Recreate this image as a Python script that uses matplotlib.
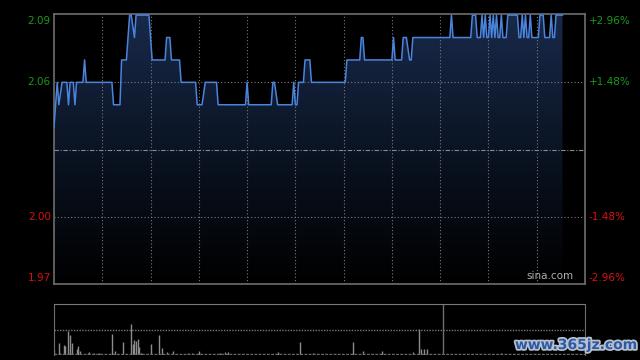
import matplotlib
matplotlib.use("Agg")
import matplotlib.pyplot as plt
import matplotlib.patheffects as pe
import matplotlib.transforms as mtransforms
from matplotlib.colors import LinearSegmentedColormap
from matplotlib.patches import Polygon
import numpy as np


OUTPUT_FILE = "out.png"

# HK trading day: 330 minutes, 11 half-hour blocks
SESSION_MINUTES = 330
PREV_CLOSE = 2.03

PRICE_MINUTES = [
    0, 2, 3, 5, 8, 9, 10, 12, 13, 14,
    18, 19, 20, 36, 37, 41, 42, 45, 47, 48,
    50, 51, 59, 61, 69, 70, 72, 73, 78, 79,
    88, 89, 92, 94, 101, 102, 119, 120, 121, 135,
    136, 137, 139, 148, 149, 150, 151, 152, 155, 156,
    159, 160, 181, 182, 190, 191, 192, 193, 210, 211,
    212, 216, 217, 219, 221, 222, 223, 246, 247, 248,
    259, 260, 262, 263, 265, 266, 267, 268, 269, 270,
    271, 272, 273, 274, 275, 276, 277, 278, 279, 281,
    282, 288, 289, 290, 291, 292, 293, 294, 295, 296,
    297, 301, 302, 304, 305, 308, 309, 310, 311, 312,
    316,
]

PRICE_VALUES = [
    2.04, 2.06, 2.05, 2.06, 2.06, 2.05, 2.06, 2.06, 2.05, 2.06,
    2.06, 2.07, 2.06, 2.06, 2.05, 2.05, 2.07, 2.07, 2.09, 2.09,
    2.08, 2.09, 2.09, 2.07, 2.07, 2.08, 2.08, 2.07, 2.07, 2.06,
    2.06, 2.05, 2.05, 2.06, 2.06, 2.05, 2.05, 2.06, 2.05, 2.05,
    2.06, 2.06, 2.05, 2.05, 2.06, 2.05, 2.05, 2.06, 2.06, 2.07,
    2.07, 2.06, 2.06, 2.07, 2.07, 2.08, 2.08, 2.07, 2.07, 2.08,
    2.07, 2.07, 2.08, 2.08, 2.07, 2.07, 2.08, 2.08, 2.09, 2.08,
    2.08, 2.09, 2.09, 2.08, 2.08, 2.09, 2.08, 2.09, 2.08, 2.08,
    2.09, 2.08, 2.09, 2.08, 2.09, 2.08, 2.08, 2.09, 2.08, 2.08,
    2.09, 2.09, 2.08, 2.08, 2.09, 2.08, 2.09, 2.08, 2.08, 2.09,
    2.08, 2.08, 2.09, 2.09, 2.08, 2.08, 2.09, 2.08, 2.08, 2.09,
    2.09,
]

VOL_MINUTES = [
    0, 3, 4, 6, 7, 9, 10, 11, 14, 15,
    16, 21, 22, 25, 28, 36, 38, 43, 48, 49,
    50, 51, 52, 53, 54, 60, 65, 67, 70, 74,
    83, 86, 90, 103, 106, 108, 139, 153, 161, 186,
    192, 204, 223, 227, 228, 230, 232, 278,
]

VOL_VALUES = [
    5, 11.6, 1.5, 10, 8.6, 23.6, 19.6, 12, 6, 9,
    4, 2, 3, 2, 2, 21, 4, 13, 31, 11,
    15, 14, 16, 8, 1.7, 11, 20, 7, 3, 4,
    2, 1.7, 4, 2, 3, 3, 3, 13, 1.7, 13,
    4, 4, 3, 26, 6, 6, 6, 2,
]

LEFT_TICKS = [2.09, 2.06, 2.00, 1.97]
LEFT_LABELS = ["2.09", "2.06", "2.00", "1.97"]
RIGHT_LABELS = ["+2.96%", "+1.48%", "-1.48%", "-2.96%"]

BG = "#000000"
SPINE = "#6e6e6e"
GRID = "#7a7a7a"
LINE = "#4a84dc"
UP = "#1a9a1a"
DOWN = "#d81010"


def draw_price_panel(fig):
    ax = fig.add_axes([54 / 640, 76 / 360, 531 / 640, 270 / 360])
    ax.set_facecolor(BG)
    ax.set_xlim(0, SESSION_MINUTES)
    ax.set_ylim(1.97, 2.0905)

    # gradient fill under the price line
    cmap = LinearSegmentedColormap.from_list("fade", ["#000000", "#0b1424", "#18294a"])
    grad = np.linspace(0, 1, 256).reshape(-1, 1)
    img = ax.imshow(grad, cmap=cmap, aspect="auto", origin="lower",
                    extent=[0, SESSION_MINUTES, 1.97, 2.0905], zorder=1)
    verts = list(zip(PRICE_MINUTES, PRICE_VALUES))
    verts += [(PRICE_MINUTES[-1], 1.97), (PRICE_MINUTES[0], 1.97)]
    poly = Polygon(verts, closed=True, facecolor="none", edgecolor="none")
    ax.add_patch(poly)
    img.set_clip_path(poly)

    for m in range(30, SESSION_MINUTES, 30):
        ax.axvline(m, color=GRID, lw=0.8, ls=(0, (1, 2)), zorder=2)
    for v in [2.06, 2.00]:
        ax.axhline(v, color=GRID, lw=0.8, ls=(0, (1, 2)), zorder=2)
    ax.axhline(PREV_CLOSE, color="#8a8a8a", lw=0.8, ls=(0, (4, 1.5, 1, 1.5)), zorder=2)

    ax.plot(PRICE_MINUTES, PRICE_VALUES, color=LINE, lw=1.1, zorder=3)

    for s in ax.spines.values():
        s.set_color(SPINE)
        s.set_linewidth(1.2)
    ax.set_xticks([])
    ax.set_yticks([])

    trans = mtransforms.blended_transform_factory(ax.transAxes, ax.transData)
    vas = ["top", "center", "center", "bottom"]
    offsets = [-0.0005, 0, 0, 0.0005]
    for i, (v, lab) in enumerate(zip(LEFT_TICKS, LEFT_LABELS)):
        color = UP if v > PREV_CLOSE else DOWN
        ax.text(-0.006, v + offsets[i], lab, transform=trans, ha="right", va=vas[i],
                color=color, fontsize=7.5)
        ax.text(1.007, v + offsets[i], RIGHT_LABELS[i], transform=trans, ha="left",
                va=vas[i], color=color, fontsize=7.5)

    ax.text(0.978, 0.012, "sina.com", transform=ax.transAxes, ha="right", va="bottom",
            color="#b0b0b0", fontsize=7.5, zorder=4)
    return ax


def draw_volume_panel(fig):
    ax = fig.add_axes([54 / 640, 5.5 / 360, 531 / 640, 50.5 / 360])
    ax.set_facecolor(BG)
    ax.set_xlim(0, SESSION_MINUTES)
    ax.set_ylim(0, 50.5)

    ax.vlines(VOL_MINUTES, 0, VOL_VALUES, color="#8c8c8c", lw=1.0)
    ax.axhline(25, color=GRID, lw=1.0, ls=(0, (1, 1)))
    ax.axhline(0.6, color="#6a6a6a", lw=1.0, ls=(0, (2, 1)))
    ax.axvline(242, color=SPINE, lw=1.0)

    ax.spines["bottom"].set_visible(False)
    ax.spines["top"].set_color(GRID)
    ax.spines["top"].set_linestyle((0, (1, 1)))
    ax.spines["left"].set_color(SPINE)
    ax.spines["right"].set_color(SPINE)
    ax.set_xticks([])
    ax.set_yticks([])
    return ax


def main():
    assert len(PRICE_MINUTES) == len(PRICE_VALUES)
    assert len(VOL_MINUTES) == len(VOL_VALUES)

    fig = plt.figure(figsize=(6.4, 3.6), dpi=100, facecolor=BG)

    draw_price_panel(fig)
    draw_volume_panel(fig)

    fig.text(576 / 640, 15 / 360, "www.365jz.com", ha="center", va="center",
             color="#2a5aa8", fontsize=10, fontweight="bold",
             path_effects=[pe.withStroke(linewidth=2.5, foreground="#b8c0cc")])

    fig.savefig(OUTPUT_FILE, dpi=100, facecolor=BG)
    plt.close(fig)


if __name__ == "__main__":
    main()
